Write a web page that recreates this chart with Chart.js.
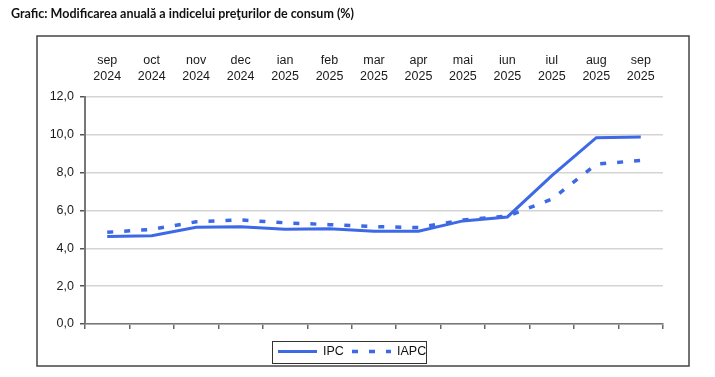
<!DOCTYPE html>
<html>
<head>
<meta charset="utf-8">
<script src="https://cdn.jsdelivr.net/npm/chart.js@4/dist/chart.umd.min.js"></script>
<style>
  html, body { margin: 0; padding: 0; background: #fff; }
  #wrap { width: 715px; height: 377px; }
</style>
</head>
<body>
<div id="wrap"><canvas id="grafic" width="715" height="377"></canvas></div>
<script>
// Date: modificarea anuala (%)
const luni = ['sep', 'oct', 'nov', 'dec', 'ian', 'feb', 'mar', 'apr', 'mai', 'iun', 'iul', 'aug', 'sep'];
const ani = ['2024', '2024', '2024', '2024', '2025', '2025', '2025', '2025', '2025', '2025', '2025', '2025', '2025'];
const ipc = [4.62, 4.67, 5.11, 5.14, 5.01, 5.04, 4.90, 4.90, 5.45, 5.66, 7.84, 9.85, 9.88];
const iapc = [4.85, 5.0, 5.4, 5.5, 5.35, 5.25, 5.15, 5.1, 5.5, 5.7, 6.6, 8.45, 8.65];
const yTicks = [0, 2, 4, 6, 8, 10, 12];

const titlu = 'Grafic: Modificarea anuală a indicelui preţurilor de consum (%)';
const albastru = '#3d68e6';
const fontAxe = { family: 'Liberation Sans, Arial, sans-serif', size: 12.5, lineHeight: 1.3 };

const etichete = luni.map((l, i) => [l, ani[i]]);

// chenar exterior, titlu si legenda desenate pe canvas
const decor = {
  id: 'decor',
  beforeDraw(chart) {
    const ctx = chart.ctx;
    ctx.save();
    ctx.fillStyle = '#fff';
    ctx.fillRect(0, 0, chart.width, chart.height);
    ctx.strokeStyle = '#444';
    ctx.lineWidth = 1.5;
    ctx.strokeRect(37, 36, 652, 330);
    ctx.fillStyle = '#111';
    ctx.font = 'bold 12.5px Lato, sans-serif';
    ctx.textBaseline = 'middle';
    ctx.fillText(titlu, 11, 14);
    ctx.restore();
  },
  afterDraw(chart) {
    const ctx = chart.ctx;
    ctx.save();
    // legenda
    ctx.fillStyle = '#fff';
    ctx.fillRect(272, 341, 154, 22);
    ctx.strokeStyle = '#333';
    ctx.lineWidth = 1;
    ctx.strokeRect(272.5, 341.5, 154, 22);
    const pozitii = [{ x: 278, t: 323 }, { x: 352, t: 397 }];
    chart.data.datasets.forEach((ds, i) => {
      const p = pozitii[i];
      ctx.strokeStyle = ds.borderColor;
      ctx.lineWidth = ds.borderWidth;
      ctx.setLineDash(ds.borderDash || []);
      ctx.beginPath();
      ctx.moveTo(p.x, 351.5);
      ctx.lineTo(p.x + 39, 351.5);
      ctx.stroke();
      ctx.setLineDash([]);
      ctx.fillStyle = '#111';
      ctx.font = '12.5px "Liberation Sans", Arial, sans-serif';
      ctx.textBaseline = 'middle';
      ctx.fillText(ds.label, p.t, 352);
    });
    ctx.restore();
  }
};

new Chart(document.getElementById('grafic'), {
  type: 'line',
  data: {
    labels: etichete,
    datasets: [
      {
        label: 'IPC',
        data: ipc,
        borderColor: albastru,
        backgroundColor: albastru,
        borderWidth: 3,
        pointRadius: 0,
        tension: 0
      },
      {
        label: 'IAPC',
        data: iapc,
        borderColor: albastru,
        backgroundColor: albastru,
        borderWidth: 3.5,
        borderDash: [6, 11],
        pointRadius: 0,
        tension: 0
      }
    ]
  },
  options: {
    responsive: false,
    animation: false,
    layout: { padding: { left: 45, right: 52, top: 47, bottom: 43 } },
    plugins: {
      legend: { display: false },
      title: { display: false },
      tooltip: { enabled: false }
    },
    scales: {
      x: {
        position: 'bottom',
        offset: true,
        grid: { offset: true, drawOnChartArea: false, drawTicks: true, tickLength: 5, color: '#666', lineWidth: 1.5 },
        border: { display: true, color: '#777', width: 1.5 },
        ticks: { display: false },
        afterFit(s) { s.height = 10; }
      },
      x2: {
        type: 'category',
        position: 'top',
        labels: etichete,
        offset: true,
        grid: { display: false, drawTicks: false },
        border: { display: false },
        ticks: { color: '#1a1a1a', font: fontAxe, padding: 12, maxRotation: 0, autoSkip: false },
        afterFit(s) { s.height = 50; }
      },
      y: {
        min: 0,
        max: 12,
        afterBuildTicks(s) { s.ticks = yTicks.map(v => ({ value: v })); },
        grid: { color: '#d4d4d4', lineWidth: 1.5, tickLength: 5, tickColor: '#555' },
        border: { display: true, color: '#777', width: 2 },
        ticks: {
          color: '#1a1a1a',
          font: fontAxe,
          padding: 6,
          callback: v => v.toFixed(1).replace('.', ',')
        },
        afterFit(s) { s.width = 40; }
      }
    }
  },
  plugins: [decor]
});
</script>
</body>
</html>
